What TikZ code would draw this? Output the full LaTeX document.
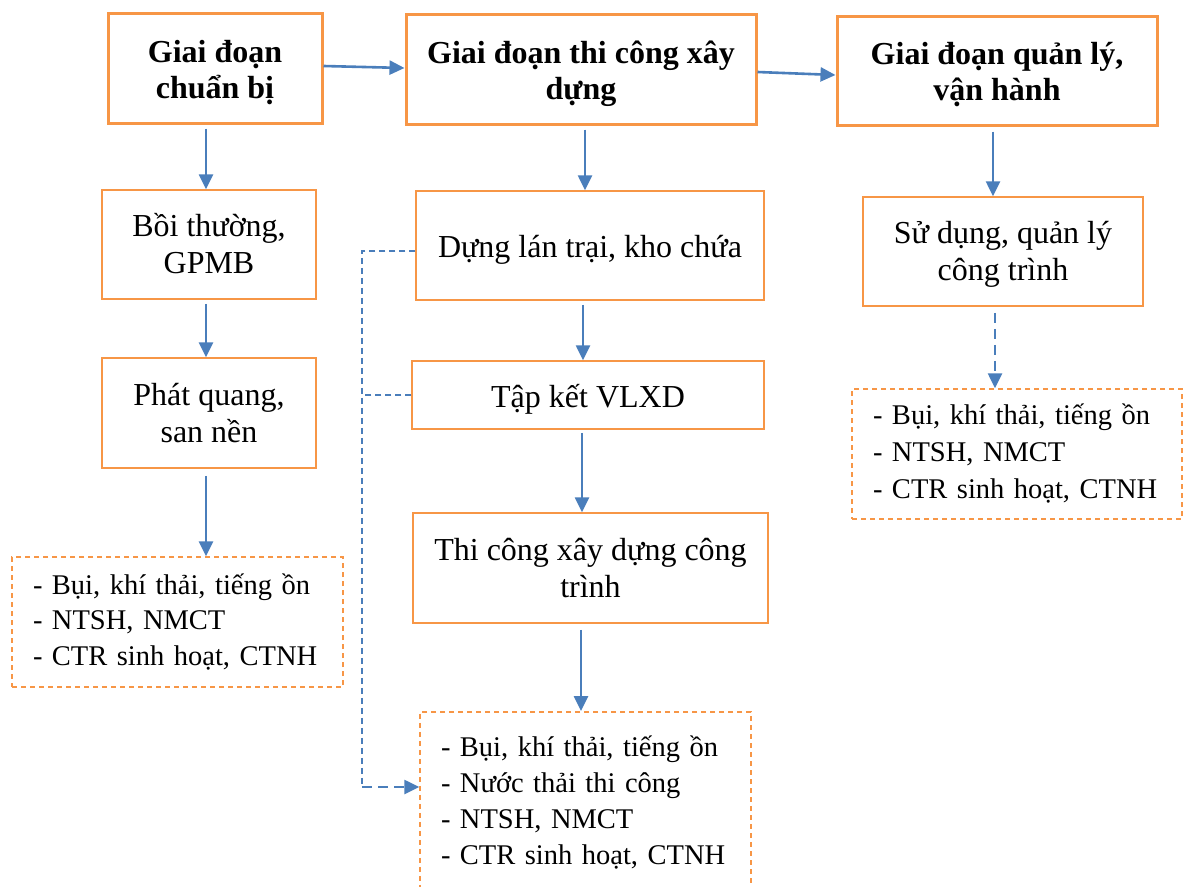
\documentclass[tikz,border=0pt]{standalone}
\usepackage{fontspec}
\setmainfont{Liberation Serif}
\usetikzlibrary{arrows.meta}
\definecolor{orbd}{HTML}{F79646}
\definecolor{arrblue}{HTML}{4A7EBB}
\tikzset{
  phase/.style={draw=orbd, line width=3pt, align=center, inner sep=0pt,
    text height=66pt, text depth=6pt,
    font=\bfseries\fontsize{32}{36}\selectfont},
  stepbox/.style={draw=orbd, line width=1.5pt, align=center, inner sep=0pt,
    text height=64pt, text depth=6pt,
    font=\fontsize{32}{37}\selectfont},
  oneline/.style={text height=28pt, text depth=4pt},
  effbox/.style={draw=orbd, line width=1.5pt, dash pattern=on 5pt off 4pt,
    align=left, inner xsep=21pt, inner ysep=0pt,
    font=\fontsize{28.5}{35.5}\selectfont},
  arr/.style={draw=arrblue, line width=2.6pt, -{Triangle[length=15pt,width=14pt]}},
  dasharr/.style={arr, dash pattern=on 10pt off 6pt},
  conn/.style={draw=arrblue, line width=1.2pt, dash pattern=on 6pt off 4pt}
}
\begin{document}
\begin{tikzpicture}[x=1pt,y=-1pt]
\useasboundingbox (0,0) rectangle (1183,886);
\clip (0,0) rectangle (1183,886);
\fill[white] (0,0) rectangle (1183,886);

% phase boxes
\node[phase, minimum width=214pt, minimum height=110pt] (A) at (215,68) {Giai đoạn\\chuẩn bị};
\node[phase, minimum width=350pt, minimum height=110pt] (B) at (581,69) {Giai đoạn thi công xây\\dựng};
\node[phase, minimum width=320pt, minimum height=109pt] (C) at (997,70.5) {Giai đoạn quản lý,\\vận hành};

% left column
\node[stepbox, minimum width=214pt, minimum height=109pt] (N1) at (209,244.5) {Bồi thường,\\GPMB};
\node[stepbox, minimum width=214pt, minimum height=110pt] (N2) at (209,413) {Phát quang,\\san nền};
\node[effbox, text width=289pt, minimum height=130pt] (LD) at (177.5,622)
  {\mbox{- Bụi, khí thải, tiếng ồn}\\\mbox{- NTSH, NMCT}\\\mbox{- CTR sinh hoạt, CTNH}};

% middle column
\node[stepbox, oneline, minimum width=348pt, minimum height=109pt] (D) at (590,245.5) {Dựng lán trại, kho chứa};
\node[stepbox, oneline, minimum width=352pt, minimum height=68pt] (T) at (588,395) {Tập kết VLXD};
\node[stepbox, minimum width=355pt, minimum height=110pt] (TC) at (590.5,568) {Thi công xây dựng công\\trình};
\node[effbox, text width=289pt, anchor=north, inner ysep=20pt, text height=25pt, text depth=126pt,
  font=\fontsize{28.5}{36}\selectfont] (MD) at (585.5,711)
  {\mbox{- Bụi, khí thải, tiếng ồn}\\\mbox{- Nước thải thi công}\\\mbox{- NTSH, NMCT}\\\mbox{- CTR sinh hoạt, CTNH}};

% right column
\node[stepbox, minimum width=280pt, minimum height=109pt] (S) at (1003,251.5) {Sử dụng, quản lý\\công trình};
\node[effbox, text width=288pt, minimum height=130pt, font=\fontsize{28.5}{37}\selectfont] (RD) at (1017,454)
  {\mbox{- Bụi, khí thải, tiếng ồn}\\\mbox{- NTSH, NMCT}\\\mbox{- CTR sinh hoạt, CTNH}};

% horizontal arrows
\draw[arr] ([yshift=2pt]A.east) -- ([yshift=1pt]B.west);
\draw[arr] ([yshift=-3pt]B.east) -- ([yshift=-4.5pt]C.west);

% vertical arrows
\draw[arr] ([xshift=-9pt,yshift=-4pt]A.south) -- ([xshift=-3pt]N1.north);
\draw[arr] ([xshift=-3pt,yshift=-4pt]N1.south) -- ([xshift=-3pt]N2.north);
\draw[arr] ([xshift=-3pt,yshift=-7pt]N2.south) -- ([xshift=28.5pt]LD.north);
\draw[arr] ([xshift=4pt,yshift=-4pt]B.south) -- ([xshift=-5pt]D.north);
\draw[arr] ([xshift=-7pt,yshift=-4pt]D.south) -- ([xshift=-5pt]T.north);
\draw[arr] ([xshift=-6pt,yshift=-3pt]T.south) -- ([xshift=-8.5pt]TC.north);
\draw[arr] ([xshift=-9.5pt,yshift=-6pt]TC.south) -- ([xshift=-4.5pt]MD.north);
\draw[arr] ([xshift=-4pt,yshift=-5pt]C.south) -- ([xshift=-10pt]S.north);
\draw[dasharr] ([xshift=-8pt,yshift=-6pt]S.south) -- ([xshift=-22pt]RD.north);

% dashed side connector
\coordinate (J1) at (362,251);
\coordinate (J2) at (362,787);
\draw[conn] ([yshift=-5.5pt]D.west) -- (J1) -- (J2);
\draw[conn] (T.west) -- (T.west -| J1);
\draw[dasharr] (J2) -- (J2 -| MD.west);
\end{tikzpicture}
\end{document}
